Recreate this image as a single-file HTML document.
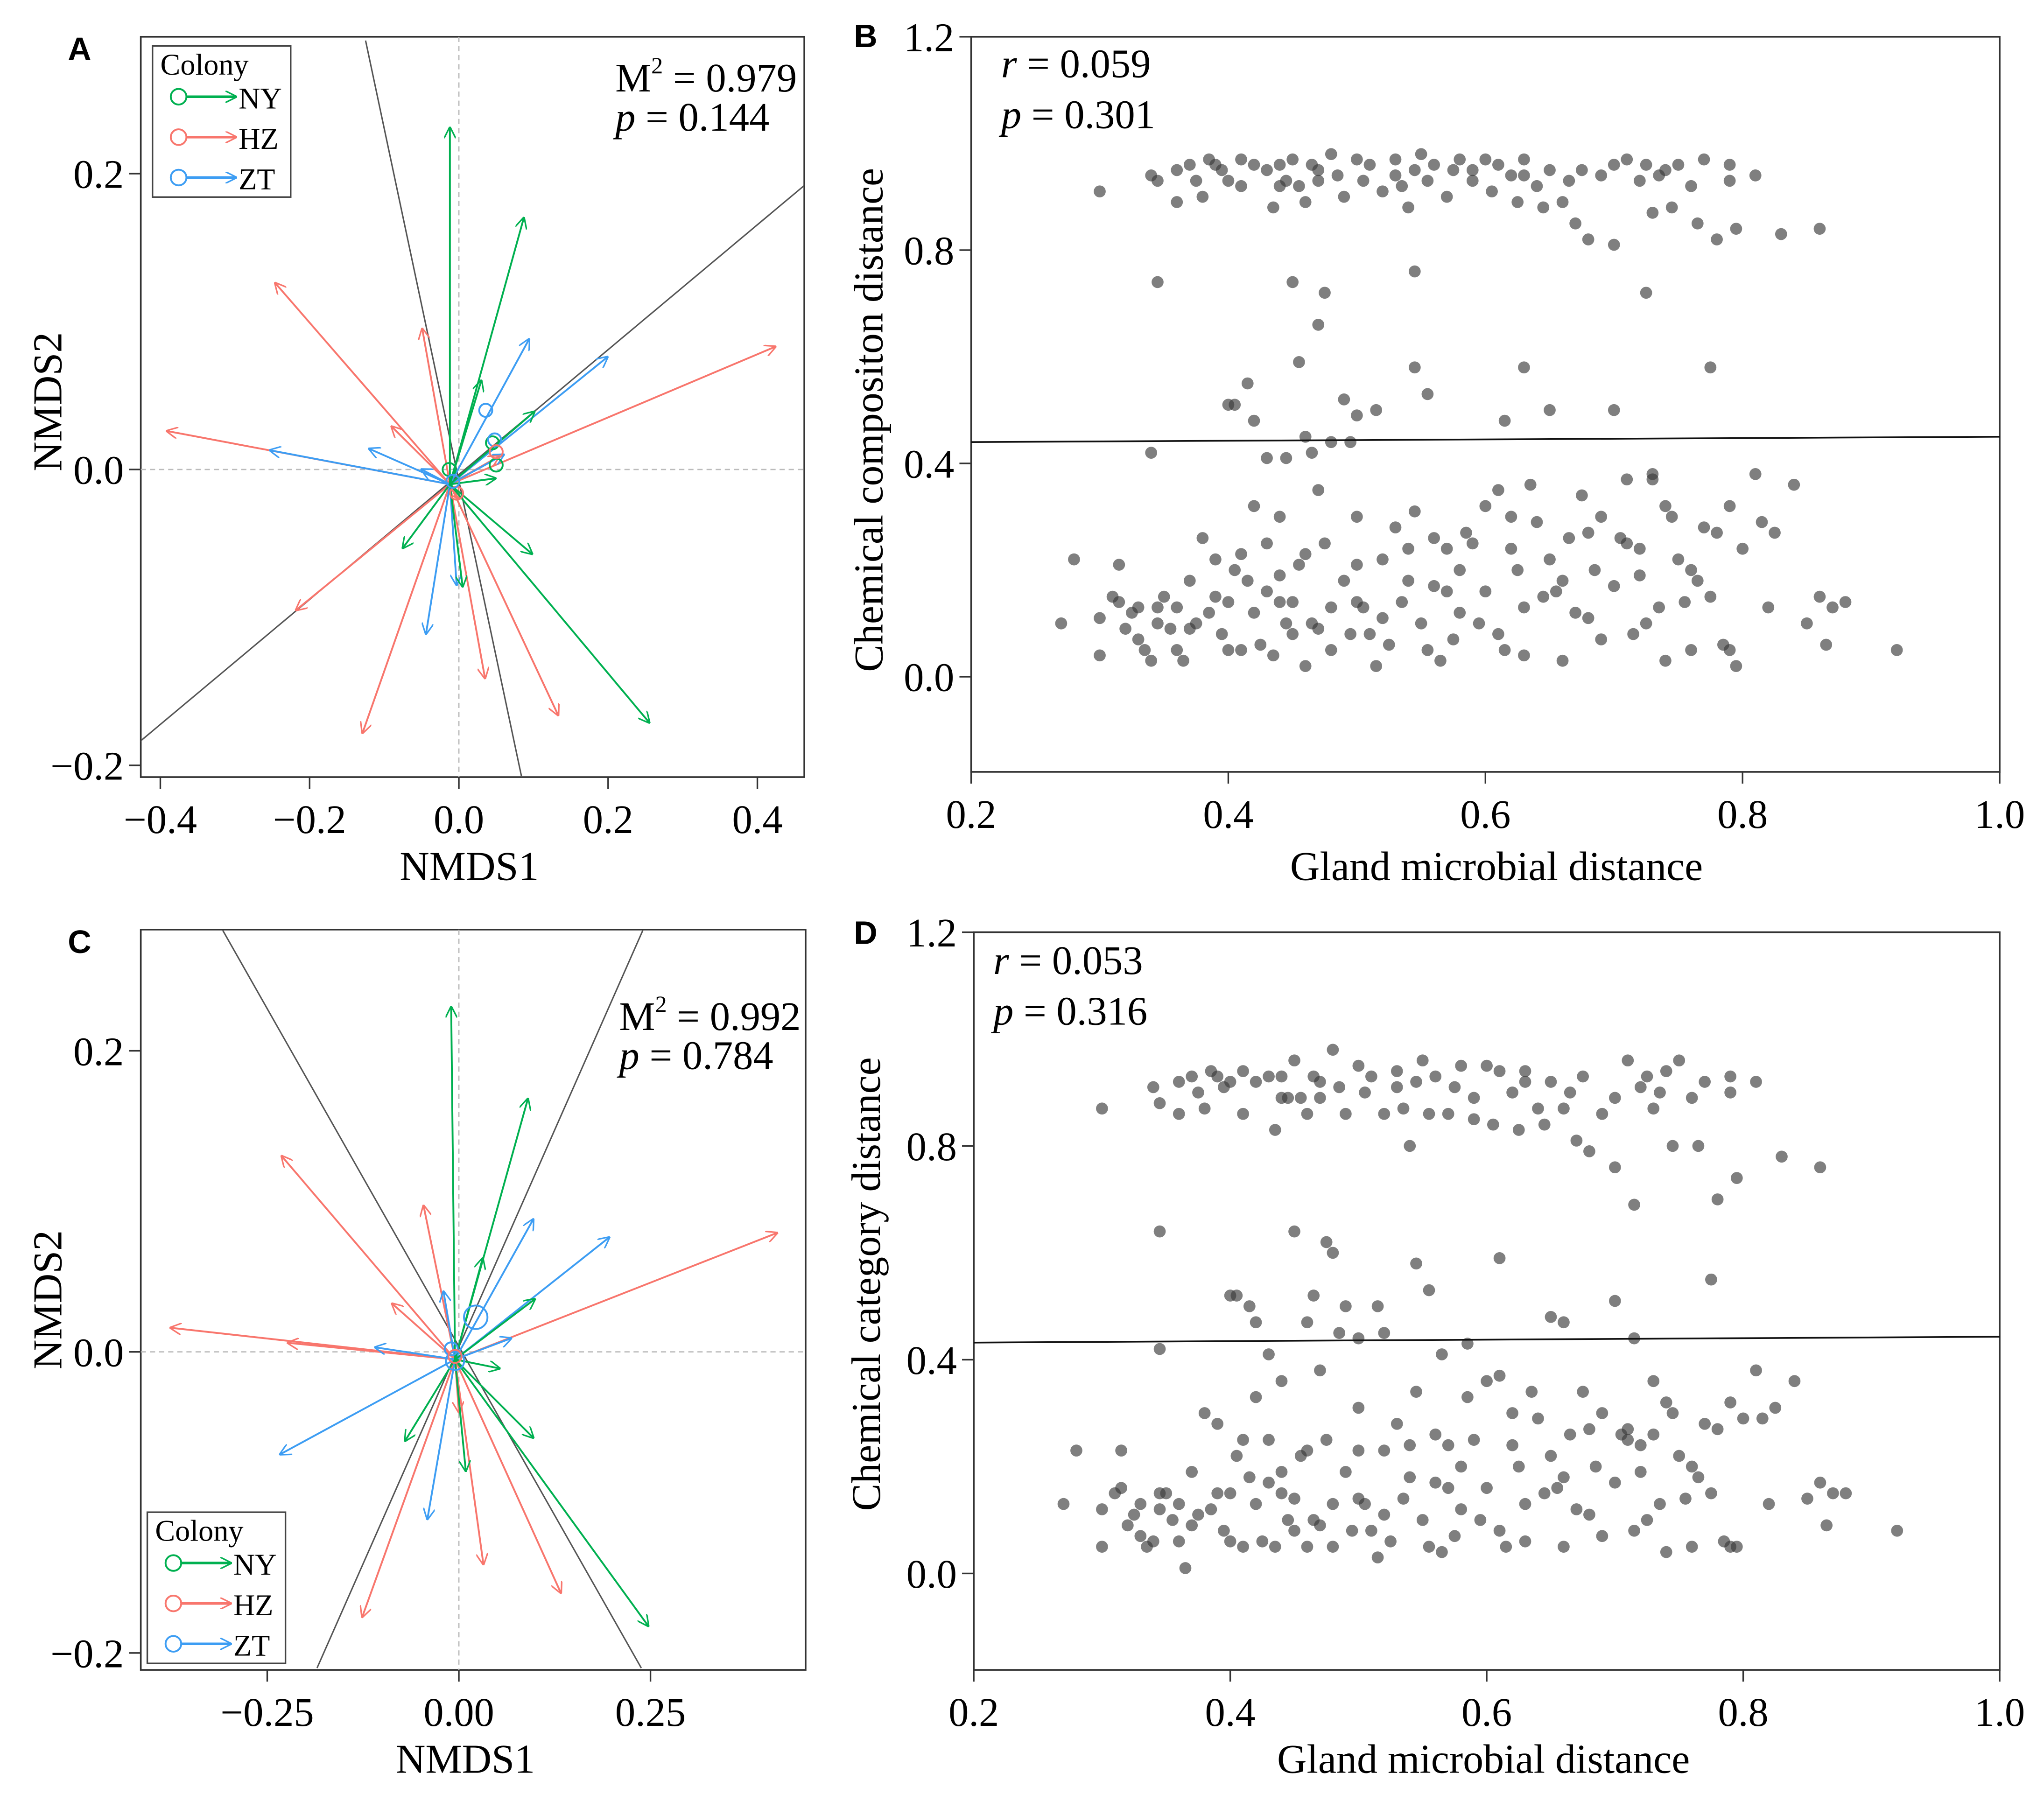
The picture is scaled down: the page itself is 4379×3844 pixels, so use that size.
<!DOCTYPE html>
<html><head><meta charset="utf-8"><style>
html,body{margin:0;padding:0;background:#fff;}
svg{display:block;}
text{font-family:"Liberation Serif",serif;fill:#000;}
.lt{font-family:"Liberation Sans",sans-serif;font-weight:bold;}
</style></head><body>
<svg id="fig" width="4379" height="3844" viewBox="0 0 1568 1376" xmlns="http://www.w3.org/2000/svg">
<defs>
<marker id="mg" viewBox="0 0 10 10" refX="9" refY="5" markerWidth="9" markerHeight="9" markerUnits="userSpaceOnUse" orient="auto"><path d="M0,0 L10,5 L0,10" fill="none" stroke="#00b050" stroke-width="1.3"/></marker>
<marker id="mr" viewBox="0 0 10 10" refX="9" refY="5" markerWidth="9" markerHeight="9" markerUnits="userSpaceOnUse" orient="auto"><path d="M0,0 L10,5 L0,10" fill="none" stroke="#f8766d" stroke-width="1.3"/></marker>
<marker id="mb" viewBox="0 0 10 10" refX="9" refY="5" markerWidth="9" markerHeight="9" markerUnits="userSpaceOnUse" orient="auto"><path d="M0,0 L10,5 L0,10" fill="none" stroke="#3d9df3" stroke-width="1.3"/></marker>
</defs>
</svg>
<script>
// ---------- Data ----------
const colonies = ["NY","HZ","ZT"];
const colonyColors = {NY:"#00b050", HZ:"#f8766d", ZT:"#3d9df3"};
const arrowEndsA_NY = [[-0.012,0.231],[0.087,0.170],[0.255,-0.171],[0.098,-0.057],[-0.075,-0.053],[0.005,-0.079],[0.101,0.039],[0.049,-0.006],[0.03,0.06]];
const arrowEndsA_HZ = [[-0.246,0.126],[-0.391,0.026],[-0.218,-0.095],[-0.129,-0.178],[-0.049,0.095],[-0.09,0.029],[0.133,-0.166],[0.035,-0.141],[0.424,0.083],[0.054,0.009],[0.0,-0.02]];
const arrowEndsA_ZT = [[-0.253,0.013],[0.199,0.076],[0.094,0.088],[-0.044,-0.111],[-0.003,-0.078],[-0.12,0.014],[0.06,0.01],[-0.05,0.0]];
const centroidsA = [["NY",0.05,0.003],["NY",-0.013,0.0],["NY",0.045,0.018],["ZT",0.036,0.04],["ZT",0.048,0.02],["HZ",-0.003,-0.016],["HZ",0.05,0.012],["ZT",-0.008,-0.008]];
const procrustesA = [[[-0.125,0.29],[0.085,-0.21]],[[-0.43,-0.185],[0.47,0.195]]];
const arrowEndsC_NY = [[-0.010,0.229],[0.090,0.168],[0.247,-0.182],[0.097,-0.057],[-0.07,-0.059],[0.009,-0.079],[0.099,0.035],[0.053,-0.011],[0.031,0.062]];
const arrowEndsC_HZ = [[-0.231,0.13],[-0.376,0.016],[-0.223,0.006],[-0.126,-0.176],[-0.046,0.097],[-0.087,0.032],[0.133,-0.160],[0.032,-0.141],[0.415,0.079],[0.0,-0.04]];
const arrowEndsC_ZT = [[-0.233,-0.068],[0.196,0.076],[0.097,0.088],[-0.041,-0.111],[-0.109,0.003],[0.068,0.009],[-0.02,0.04]];
const centroidsC = [["ZT",0.022,0.023,9],["ZT",-0.005,-0.006,7],["ZT",-0.01,0.002,5],["HZ",-0.005,-0.003,5]];
const procrustesC = [[[-0.308,0.28],[0.238,-0.21]],[[0.24,0.28],[-0.185,-0.21]]];

const pointsB = [[0.30,0.91],[0.34,0.94],[0.345,0.93],[0.36,0.89],[0.37,0.96],[0.375,0.93],[0.38,0.90],[0.385,0.97],[0.39,0.96],[0.395,0.95],[0.40,0.93],[0.41,0.92],[0.42,0.96],[0.43,0.95],[0.435,0.88],[0.44,0.96],[0.445,0.93],[0.45,0.97],[0.455,0.92],[0.46,0.89],[0.465,0.96],[0.47,0.95],[0.48,0.98],[0.485,0.94],[0.49,0.90],[0.50,0.97],[0.505,0.93],[0.51,0.96],[0.52,0.91],[0.53,0.97],[0.535,0.92],[0.54,0.88],[0.545,0.95],[0.55,0.98],[0.555,0.93],[0.56,0.96],[0.57,0.90],[0.575,0.95],[0.58,0.97],[0.59,0.93],[0.60,0.97],[0.605,0.91],[0.61,0.96],[0.62,0.94],[0.625,0.89],[0.63,0.97],[0.64,0.92],[0.645,0.88],[0.65,0.95],[0.66,0.89],[0.665,0.93],[0.67,0.85],[0.675,0.95],[0.68,0.82],[0.69,0.94],[0.70,0.81],[0.71,0.97],[0.72,0.93],[0.725,0.96],[0.73,0.87],[0.735,0.94],[0.74,0.95],[0.745,0.88],[0.75,0.96],[0.76,0.92],[0.765,0.85],[0.77,0.97],[0.78,0.82],[0.79,0.96],[0.79,0.93],[0.795,0.84],[0.81,0.94],[0.83,0.83],[0.86,0.84],[0.41,0.97],[0.47,0.93],[0.53,0.94],[0.59,0.95],[0.63,0.94],[0.70,0.96],[0.36,0.95],[0.44,0.92],
[0.345,0.74],[0.40,0.51],[0.405,0.51],[0.415,0.55],[0.42,0.48],[0.45,0.74],[0.475,0.72],[0.47,0.66],[0.455,0.59],[0.46,0.45],[0.48,0.44],[0.50,0.49],[0.515,0.50],[0.545,0.58],[0.555,0.53],[0.545,0.76],[0.63,0.58],[0.65,0.50],[0.70,0.50],[0.725,0.72],[0.775,0.58],[0.34,0.42],[0.43,0.41],[0.445,0.41],[0.465,0.42],[0.495,0.44],[0.49,0.52],[0.615,0.48],
[0.27,0.10],[0.28,0.22],[0.30,0.04],[0.30,0.11],[0.31,0.15],[0.315,0.14],[0.315,0.21],[0.32,0.09],[0.325,0.12],[0.33,0.07],[0.335,0.05],[0.34,0.03],[0.345,0.10],[0.345,0.13],[0.35,0.15],[0.355,0.09],[0.36,0.05],[0.365,0.03],[0.37,0.18],[0.37,0.09],[0.375,0.10],[0.38,0.26],[0.385,0.12],[0.39,0.22],[0.395,0.08],[0.40,0.14],[0.40,0.05],[0.405,0.20],[0.41,0.23],[0.415,0.18],[0.42,0.32],[0.42,0.12],[0.425,0.06],[0.43,0.25],[0.43,0.16],[0.435,0.04],[0.44,0.30],[0.44,0.14],[0.445,0.10],[0.45,0.14],[0.455,0.21],[0.46,0.02],[0.46,0.23],[0.465,0.10],[0.47,0.35],[0.475,0.25],[0.48,0.13],[0.48,0.05],[0.49,0.18],[0.495,0.08],[0.50,0.30],[0.50,0.21],[0.505,0.13],[0.51,0.08],[0.515,0.02],[0.52,0.22],[0.525,0.06],[0.53,0.28],[0.535,0.14],[0.54,0.18],[0.545,0.31],[0.55,0.10],[0.555,0.05],[0.56,0.17],[0.565,0.03],[0.57,0.24],[0.575,0.07],[0.58,0.12],[0.585,0.27],[0.59,0.25],[0.595,0.10],[0.60,0.16],[0.60,0.32],[0.61,0.08],[0.61,0.35],[0.615,0.05],[0.62,0.24],[0.625,0.20],[0.63,0.13],[0.635,0.36],[0.64,0.29],[0.645,0.15],[0.65,0.22],[0.655,0.16],[0.66,0.03],[0.665,0.26],[0.67,0.12],[0.675,0.34],[0.68,0.11],[0.685,0.20],[0.69,0.07],[0.69,0.30],[0.70,0.17],[0.705,0.26],[0.71,0.25],[0.715,0.08],[0.72,0.19],[0.725,0.10],[0.73,0.38],[0.735,0.13],[0.74,0.03],[0.745,0.30],[0.75,0.22],[0.755,0.14],[0.76,0.05],[0.765,0.18],[0.77,0.28],[0.775,0.15],[0.78,0.27],[0.785,0.06],[0.79,0.32],[0.795,0.02],[0.80,0.24],[0.81,0.38],[0.815,0.29],[0.82,0.13],[0.825,0.27],[0.84,0.36],[0.85,0.10],[0.86,0.15],[0.865,0.06],[0.87,0.13],[0.88,0.14],[0.92,0.05],[0.63,0.04],[0.56,0.26],[0.52,0.11],[0.47,0.09],[0.41,0.05],[0.36,0.13],[0.39,0.15],[0.44,0.19],[0.54,0.24],[0.58,0.20],[0.66,0.18],[0.72,0.24],[0.74,0.32],[0.68,0.27],[0.62,0.30],[0.57,0.16],[0.50,0.14],[0.45,0.08],[0.33,0.13],[0.79,0.05],[0.76,0.20],[0.71,0.37],[0.73,0.37]];
const pointsD = [[0.30,0.87],[0.34,0.91],[0.345,0.88],[0.36,0.86],[0.37,0.93],[0.375,0.90],[0.38,0.87],[0.385,0.94],[0.39,0.93],[0.395,0.91],[0.40,0.92],[0.41,0.86],[0.42,0.92],[0.43,0.93],[0.435,0.83],[0.44,0.93],[0.445,0.89],[0.45,0.96],[0.455,0.89],[0.46,0.86],[0.465,0.93],[0.47,0.92],[0.48,0.98],[0.485,0.91],[0.49,0.86],[0.50,0.95],[0.505,0.90],[0.51,0.93],[0.52,0.86],[0.53,0.94],[0.535,0.87],[0.54,0.80],[0.545,0.92],[0.55,0.96],[0.555,0.86],[0.56,0.93],[0.57,0.86],[0.575,0.91],[0.58,0.95],[0.59,0.89],[0.60,0.95],[0.605,0.84],[0.61,0.94],[0.62,0.90],[0.625,0.83],[0.63,0.92],[0.64,0.87],[0.645,0.84],[0.65,0.92],[0.66,0.87],[0.665,0.90],[0.67,0.81],[0.675,0.93],[0.68,0.79],[0.69,0.86],[0.70,0.76],[0.71,0.96],[0.72,0.91],[0.725,0.93],[0.73,0.87],[0.735,0.90],[0.74,0.94],[0.745,0.80],[0.75,0.96],[0.76,0.89],[0.765,0.80],[0.77,0.92],[0.78,0.70],[0.79,0.93],[0.79,0.90],[0.795,0.74],[0.81,0.92],[0.83,0.78],[0.86,0.76],[0.41,0.94],[0.47,0.89],[0.53,0.91],[0.59,0.85],[0.63,0.94],[0.70,0.89],[0.36,0.92],[0.44,0.89],
[0.345,0.64],[0.40,0.52],[0.405,0.52],[0.415,0.50],[0.42,0.47],[0.45,0.64],[0.475,0.62],[0.48,0.60],[0.465,0.52],[0.46,0.47],[0.49,0.50],[0.50,0.44],[0.515,0.50],[0.545,0.58],[0.555,0.53],[0.61,0.59],[0.65,0.48],[0.66,0.47],[0.70,0.51],[0.715,0.69],[0.775,0.55],[0.345,0.42],[0.43,0.41],[0.485,0.45],[0.52,0.45],[0.565,0.41],[0.585,0.43],[0.715,0.44],
[0.27,0.13],[0.28,0.23],[0.30,0.05],[0.30,0.12],[0.31,0.15],[0.315,0.16],[0.315,0.23],[0.32,0.09],[0.325,0.11],[0.33,0.07],[0.335,0.05],[0.34,0.06],[0.345,0.12],[0.345,0.15],[0.35,0.15],[0.355,0.10],[0.36,0.06],[0.365,0.01],[0.37,0.19],[0.37,0.09],[0.375,0.11],[0.38,0.30],[0.385,0.12],[0.39,0.28],[0.395,0.08],[0.40,0.15],[0.40,0.06],[0.405,0.22],[0.41,0.25],[0.415,0.18],[0.42,0.33],[0.42,0.13],[0.425,0.06],[0.43,0.25],[0.43,0.17],[0.435,0.05],[0.44,0.36],[0.44,0.15],[0.445,0.10],[0.45,0.14],[0.455,0.22],[0.46,0.05],[0.46,0.23],[0.465,0.10],[0.47,0.38],[0.475,0.25],[0.48,0.13],[0.48,0.05],[0.49,0.19],[0.495,0.08],[0.50,0.31],[0.50,0.23],[0.505,0.13],[0.51,0.08],[0.515,0.03],[0.52,0.23],[0.525,0.06],[0.53,0.28],[0.535,0.14],[0.54,0.18],[0.545,0.34],[0.55,0.10],[0.555,0.05],[0.56,0.17],[0.565,0.04],[0.57,0.24],[0.575,0.07],[0.58,0.12],[0.585,0.33],[0.59,0.25],[0.595,0.10],[0.60,0.16],[0.60,0.36],[0.61,0.08],[0.61,0.37],[0.615,0.05],[0.62,0.24],[0.625,0.20],[0.63,0.13],[0.635,0.34],[0.64,0.29],[0.645,0.15],[0.65,0.22],[0.655,0.16],[0.66,0.05],[0.665,0.26],[0.67,0.12],[0.675,0.34],[0.68,0.11],[0.685,0.20],[0.69,0.07],[0.69,0.30],[0.70,0.17],[0.705,0.26],[0.71,0.25],[0.715,0.08],[0.72,0.19],[0.725,0.10],[0.73,0.36],[0.735,0.13],[0.74,0.04],[0.745,0.30],[0.75,0.22],[0.755,0.14],[0.76,0.05],[0.765,0.18],[0.77,0.28],[0.775,0.15],[0.78,0.27],[0.785,0.06],[0.79,0.32],[0.795,0.05],[0.80,0.29],[0.81,0.38],[0.815,0.29],[0.82,0.13],[0.825,0.31],[0.84,0.36],[0.85,0.14],[0.86,0.17],[0.865,0.09],[0.87,0.15],[0.88,0.15],[0.92,0.08],[0.63,0.06],[0.56,0.26],[0.52,0.11],[0.47,0.09],[0.41,0.05],[0.36,0.13],[0.39,0.15],[0.44,0.19],[0.54,0.24],[0.58,0.20],[0.66,0.18],[0.72,0.24],[0.74,0.32],[0.68,0.27],[0.62,0.30],[0.57,0.16],[0.50,0.14],[0.45,0.08],[0.33,0.13],[0.79,0.05],[0.76,0.20],[0.71,0.27],[0.73,0.26]];
const fitB = [0.44,0.45];
const fitD = [0.432,0.443];
const ticksA_x = [-0.4,-0.2,0.0,0.2,0.4];
const ticksA_y = [-0.2,0.0,0.2];
const ticksC_x = [-0.25,0.0,0.25];
const ticksC_y = [-0.2,0.0,0.2];
const ticksS_x = [0.2,0.4,0.6,0.8,1.0];
const ticksS_y = [0.0,0.4,0.8,1.2];

// ---------- Helpers ----------
const NS="http://www.w3.org/2000/svg";
const svg=document.getElementById('fig');
function el(tag,attrs,parent,txt){const e=document.createElementNS(NS,tag);for(const k in attrs)e.setAttribute(k,attrs[k]);if(txt!==undefined)e.textContent=txt;(parent||svg).appendChild(e);return e;}
function lin(d0,d1,p0,p1){return v=>p0+(v-d0)*(p1-p0)/(d1-d0);}
function fmt(v,dec){const s=Math.abs(v).toFixed(dec);return (v<0?"\u2212":"")+s;}

function frame(g,box,sx,sy,xt,yt,dec,xdec,name){
  const r=el('rect',{x:box.x0,y:box.y0,width:box.x1-box.x0,height:box.y1-box.y0,fill:'none',stroke:'#333','stroke-width':1.3},g);
  
  
  const xa=el('g',{},g);
  
  
  xt.forEach(t=>{const x=sx(t);el('line',{x1:x,y1:box.y1,x2:x,y2:box.y1+9,stroke:'#333','stroke-width':1.2},xa);
    const tl=el('text',{x:x,y:box.y1+43,'font-size':31,'text-anchor':'middle'},xa,fmt(t,xdec));
    
    });
  const ya=el('g',{},g);
  
  
  yt.forEach(t=>{const y=sy(t);el('line',{x1:box.x0-9,y1:y,x2:box.x0,y2:y,stroke:'#333','stroke-width':1.2},ya);
    const tl=el('text',{x:box.x0-13,y:y+11,'font-size':31,'text-anchor':'end'},ya,fmt(t,dec));
    
    });
}

function ordination(name,box,sx,sy,xt,yt,xdec,ends,cents,lines,stat,legendPos,center){
  const g=el('g',{});
  
  
  frame(g,box,sx,sy,xt,yt,1,xdec,name);
  const clip='clip-'+name;
  const cp=el('clipPath',{id:clip},g);el('rect',{x:box.x0,y:box.y0,width:box.x1-box.x0,height:box.y1-box.y0},cp);
  const inner=el('g',{'clip-path':'url(#'+clip+')'},g);
  el('line',{x1:sx(0),y1:box.y0,x2:sx(0),y2:box.y1,stroke:'#bbb','stroke-dasharray':'4,3','stroke-width':1},inner);
  el('line',{x1:box.x0,y1:sy(0),x2:box.x1,y2:sy(0),stroke:'#bbb','stroke-dasharray':'4,3','stroke-width':1},inner);
  lines.forEach(l=>{const pl=el('line',{x1:sx(l[0][0]),y1:sy(l[0][1]),x2:sx(l[1][0]),y2:sy(l[1][1]),stroke:'#555','stroke-width':1.1},inner);
    
    });
  const mk={NY:'mg',HZ:'mr',ZT:'mb'};
  ['HZ','ZT','NY'].forEach(c=>{ends[c].forEach(p=>{
    const a=el('line',{x1:sx(center[0]),y1:sy(center[1]),x2:sx(p[0]),y2:sy(p[1]),stroke:colonyColors[c],'stroke-width':1.4,'marker-end':'url(#'+mk[c]+')'},inner);
    
    });});
  cents.forEach(c=>{const ci=el('circle',{cx:sx(c[1]),cy:sy(c[2]),r:c[3]||5,fill:'none',stroke:colonyColors[c[0]],'stroke-width':1.4},inner);
    
    });
  const st=el('text',{x:stat.x,y:stat.y,'font-size':31},g);
  
  
  st.innerHTML='M<tspan font-size="18" dy="-14">2</tspan><tspan dy="14"> = '+stat.m+'</tspan>';
  const sp=el('text',{x:stat.x,y:stat.y+30,'font-size':31},g);
  
  
  sp.innerHTML='<tspan font-style="italic">p</tspan> = '+stat.p;
  // legend
  const lg=el('g',{},g);
  
  
  const L=legendPos;
  el('rect',{x:L.x,y:L.y,width:106,height:116,fill:'#fff',stroke:'#444','stroke-width':1.2},lg);
  el('text',{x:L.x+6,y:L.y+22,'font-size':23},lg,'Colony');
  colonies.forEach((c,i)=>{const yy=L.y+45+i*31;const col=colonyColors[c];
    const e=el('g',{},lg);
    
    
    el('circle',{cx:L.x+20,cy:yy-6,r:6,fill:'none',stroke:col,'stroke-width':1.4},e);
    el('line',{x1:L.x+26,y1:yy-6,x2:L.x+64,y2:yy-6,stroke:col,'stroke-width':2,'marker-end':'url(#'+mk[c]+')'},e);
    el('text',{x:L.x+66,y:yy+3,'font-size':23},e,c);});
  return g;
}

function scatter(name,box,sx,sy,pts,fit){
  const g=el('g',{});
  
  
  frame(g,box,sx,sy,ticksS_x,ticksS_y,1,1,name);
  pts.forEach(q=>{const c=el('circle',{cx:sx(q[0]),cy:sy(q[1]),r:4.6,fill:'#3a3a3a','fill-opacity':0.65},g);
    
    });
  const fl=el('line',{x1:sx(0.2),y1:sy(fit[0]),x2:sx(1.0),y2:sy(fit[1]),stroke:'#111','stroke-width':1.3},g);
  
  
  return g;
}

// Panel A
const boxA={x0:108,y0:28,x1:617,y1:596};
const sxA=lin(0,0.4,352,581), syA=lin(0,0.2,360,133);
ordination('panel-a',boxA,sxA,syA,ticksA_x,ticksA_y,1,{NY:arrowEndsA_NY,HZ:arrowEndsA_HZ,ZT:arrowEndsA_ZT},centroidsA,procrustesA,{x:472,y:70,m:'0.979',p:'0.144'},{x:117,y:35},[-0.012,-0.01]);
// Panel C
const boxC={x0:108,y0:713,x1:618,y1:1281};
const sxC=lin(0,0.25,352,499), syC=lin(0,0.2,1037,806);
ordination('panel-c',boxC,sxC,syC,ticksC_x,ticksC_y,2,{NY:arrowEndsC_NY,HZ:arrowEndsC_HZ,ZT:arrowEndsC_ZT},centroidsC,procrustesC,{x:475,y:790,m:'0.992',p:'0.784'},{x:113,y:1160},[-0.005,-0.005]);
// Panel B
const boxB={x0:745,y0:28,x1:1534,y1:592};
scatter('panel-b',boxB,lin(0.2,1.0,745,1534),lin(0,1.2,519,28),pointsB,fitB);
// Panel D
const boxD={x0:747,y0:715,x1:1534,y1:1281};
scatter('panel-d',boxD,lin(0.2,1.0,747,1534),lin(0,1.2,1207,715),pointsD,fitD);
</script>
<svg style="position:absolute;left:0;top:0" width="4379" height="3844" viewBox="0 0 1568 1376" xmlns="http://www.w3.org/2000/svg">
<text class="lt" x="52" y="46" font-size="25">A</text>
<text class="lt" x="655" y="36" font-size="25">B</text>
<text class="lt" x="52" y="731" font-size="25">C</text>
<text class="lt" x="655" y="724" font-size="25">D</text>
<text x="360" y="675" font-size="31.5" text-anchor="middle">NMDS1</text>
<text x="357" y="1360" font-size="31.5" text-anchor="middle">NMDS1</text>
<text x="1148" y="675" font-size="31.5" text-anchor="middle">Gland microbial distance</text>
<text x="1138" y="1360" font-size="31.5" text-anchor="middle">Gland microbial distance</text>
<text transform="translate(47,308) rotate(-90)" font-size="31.5" text-anchor="middle">NMDS2</text>
<text transform="translate(47,997) rotate(-90)" font-size="31.5" text-anchor="middle">NMDS2</text>
<text transform="translate(677,322) rotate(-90)" font-size="31.5" text-anchor="middle">Chemical compositon distance</text>
<text transform="translate(675,985) rotate(-90)" font-size="31.5" text-anchor="middle">Chemical category distance</text>
<text x="768" y="59" font-size="31"><tspan font-style="italic">r</tspan> = 0.059</text>
<text x="768" y="98" font-size="31"><tspan font-style="italic">p</tspan> = 0.301</text>
<text x="762" y="747" font-size="31"><tspan font-style="italic">r</tspan> = 0.053</text>
<text x="762" y="786" font-size="31"><tspan font-style="italic">p</tspan> = 0.316</text>
</svg>
</body></html>
